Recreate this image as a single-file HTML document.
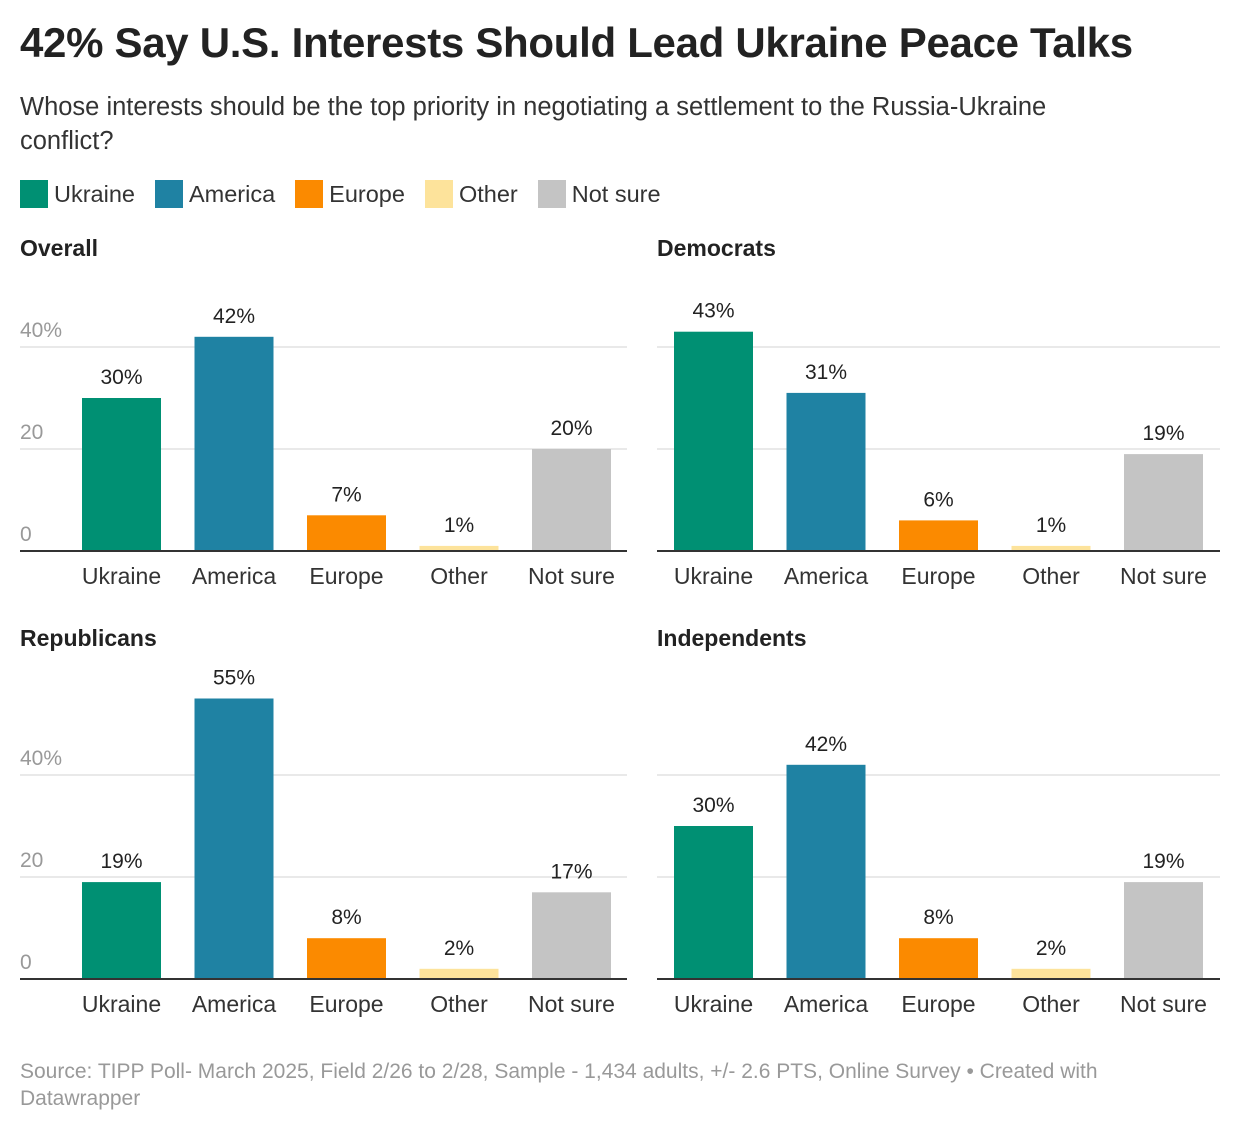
<!DOCTYPE html>
<html><head><meta charset="utf-8">
<style>
body{margin:0;background:#fff;width:1240px;height:1134px;overflow:hidden;font-family:"Liberation Sans",Arial,sans-serif;color:#222}
#title{position:absolute;left:20px;top:19px;font-size:42px;font-weight:bold;letter-spacing:-0.3px;margin:0;white-space:nowrap}
#subtitle{position:absolute;left:20px;top:90px;font-size:25.5px;line-height:34px;width:1120px;color:#333;margin:0}
#legend{position:absolute;left:20px;top:180px;display:flex;font-size:23.5px;color:#333}
.li{display:flex;align-items:center;margin-right:20px}
.sw{width:28px;height:28px;margin-right:6px}
#footer{position:absolute;left:20px;top:1058px;font-size:21px;line-height:27px;color:#999;width:1130px}
svg{position:absolute;left:0;top:0}
</style></head><body>
<h1 id="title">42% Say U.S. Interests Should Lead Ukraine Peace Talks</h1>
<p id="subtitle">Whose interests should be the top priority in negotiating a settlement to the Russia-Ukraine conflict?</p>
<div id="legend">
<div class="li"><div class="sw" style="background:#009073"></div>Ukraine</div>
<div class="li"><div class="sw" style="background:#1f82a3"></div>America</div>
<div class="li"><div class="sw" style="background:#fb8a00"></div>Europe</div>
<div class="li"><div class="sw" style="background:#fde39b"></div>Other</div>
<div class="li"><div class="sw" style="background:#c4c4c4"></div>Not sure</div>
</div>
<svg id="chart" width="1240" height="1134"></svg>
<div id="footer">Source: TIPP Poll- March 2025, Field 2/26 to 2/28, Sample - 1,434 adults, +/- 2.6 PTS, Online Survey • Created with Datawrapper</div>
<script>
const categories=["Ukraine","America","Europe","Other","Not sure"];
const panelNames=["Overall","Democrats","Republicans","Independents"];
const overallValues=[30,42,7,1,20];
const democratValues=[43,31,6,1,19];
const republicanValues=[19,55,8,2,17];
const independentValues=[30,42,8,2,19];
const tickValues=[0,20,40];
const tickLabels=["0","20","40%"];

const colors=["#009073","#1f82a3","#fb8a00","#fde39b","#c4c4c4"];
const allValues=[overallValues,democratValues,republicanValues,independentValues];
const layout=[{x0:20,x1:627,base:551,bx:82,ty:256,ticks:true},{x0:657,x1:1220,base:551,bx:674,ty:256,ticks:false},
{x0:20,x1:627,base:979,bx:82,ty:646,ticks:true},{x0:657,x1:1220,base:979,bx:674,ty:646,ticks:false}];
const ns="http://www.w3.org/2000/svg";
const svg=document.getElementById('chart');
function mk(tag,attrs,parent){const e=document.createElementNS(ns,tag);for(const k in attrs)e.setAttribute(k,attrs[k]);parent.appendChild(e);return e;}
const pxPerUnit=5.1, step=112.5, bw=79;
layout.forEach((L,pi)=>{
  const g=mk('g',{},svg);
  
  
  const y=v=>L.base-v*pxPerUnit;
  const t=mk('text',{x:L.x0,y:L.ty,'font-size':23,'font-weight':'bold',fill:'#222'},g);
  t.textContent=panelNames[pi];
  
  
  tickValues.forEach((tv,i)=>{
    if(tv>0){const gl=mk('line',{x1:L.x0,x2:L.x1,y1:y(tv),y2:y(tv),stroke:'#e2e2e2','stroke-width':1.5},g);
      
      }
    if(L.ticks){const tl=mk('text',{x:L.x0,y:y(tv)-10,'font-size':21,fill:'#999'},g);tl.textContent=tickLabels[i];
      
      }
  });
  allValues[pi].forEach((v,i)=>{
    const x=L.bx+i*step;
    const r=mk('rect',{x:x,y:y(v),width:bw,height:v*pxPerUnit,fill:colors[i]},g);
    
    
    const vl=mk('text',{x:x+bw/2,y:y(v)-14,'font-size':21,'text-anchor':'middle',fill:'#222'},g);vl.textContent=v+'%';
    
    
    const cl=mk('text',{x:x+bw/2,y:L.base+33,'font-size':23,'text-anchor':'middle',fill:'#333'},g);cl.textContent=categories[i];
    
    
  });
  const ax=mk('line',{x1:L.x0,x2:L.x1,y1:L.base,y2:L.base,stroke:'#333','stroke-width':2},g);
  
  
});
</script>
</body></html>
